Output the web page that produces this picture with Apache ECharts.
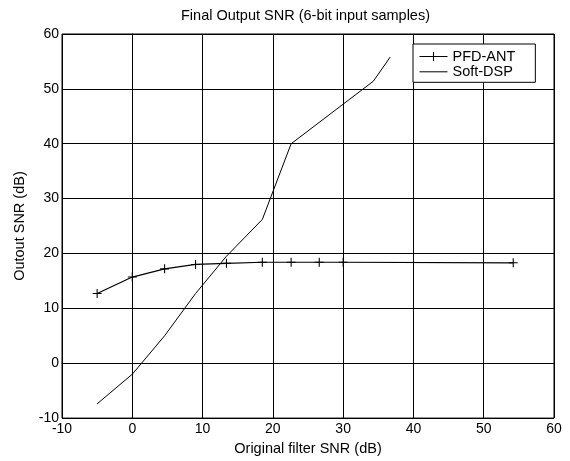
<!DOCTYPE html>
<html><head><meta charset="utf-8">
<script src="https://cdn.jsdelivr.net/npm/echarts@6/dist/echarts.min.js"></script>
<style>html,body{margin:0;padding:0;background:#fff}#c{width:570px;height:461px}</style>
</head><body><div id="c"></div>
<script>
var titleText = 'Final Output SNR (6-bit input samples)';
var xName = 'Original filter SNR (dB)';
var yName = 'Outout SNR (dB)';
var seriesNames = ['PFD-ANT', 'Soft-DSP'];
var pfdX = [-5, 0, 4.6, 9, 13.4, 18.5, 22.6, 26.6, 30, 54.2];
var pfdY = [12.7, 15.7, 17.2, 18.0, 18.2, 18.4, 18.4, 18.4, 18.4, 18.3];
var dspX = [-5, 0, 4.6, 9, 13.4, 18.5, 22.6, 34.3, 36.7];
var dspY = [-7.4, -2, 5, 12.7, 19.5, 26.2, 40, 51.4, 55.8];
var xTicks = [-10, 0, 10, 20, 30, 40, 50, 60];
var yTicks = [-10, 0, 10, 20, 30, 40, 50, 60];

function pairs(xs, ys){ return xs.map(function(x,i){return [x, ys[i]];}); }
var font = 'Liberation Sans, Arial, sans-serif';
var plus = 'path://M0,4.4H10V5.6H0Z M4.4,0H5.6V10H4.4Z';
var chart = echarts.init(document.getElementById('c'), null, {renderer:'canvas'});
chart.setOption({
  animation: false,
  backgroundColor: '#fff',
  title: {text: titleText, left: 181, top: 8, itemGap: 0, padding: 0,
    textStyle: {fontFamily: font, fontSize: 14.5, fontWeight: 'normal', color: '#000'}},
  grid: {left: 62, right: 16, top: 34, bottom: 42, show: true, borderColor: '#000', borderWidth: 1, backgroundColor: 'transparent'},
  legend: {
    orient: 'vertical', left: 413, top: 44, padding: [5, 20, 3, 6],
    backgroundColor: '#fff', borderColor: '#000', borderWidth: 1, borderRadius: 0,
    itemWidth: 28, itemHeight: 11, itemGap: 0.3,
    lineStyle: {width: 1, color: '#000'},
    textStyle: {fontFamily: font, fontSize: 14.5, lineHeight: 13, color: '#000'},
    data: [
      {name: seriesNames[0]},
      {name: seriesNames[1], itemStyle: {color: 'rgba(0,0,0,0)', borderColor: 'rgba(0,0,0,0)', borderWidth: 0}}
    ]
  },
  xAxis: {type: 'value', min: xTicks[0], max: xTicks[xTicks.length-1], interval: 10,
    name: xName, nameLocation: 'middle', nameGap: 21,
    nameTextStyle: {fontFamily: font, fontSize: 14.5, color: '#000'},
    axisLine: {show: true, lineStyle: {color: '#000', width: 1}},
    axisTick: {show: true, inside: true, length: 4, lineStyle: {color: '#000'}},
    axisLabel: {fontFamily: font, fontSize: 14, color: '#000', margin: 4},
    splitLine: {show: true, lineStyle: {color: '#000', width: 1}}},
  yAxis: {type: 'value', min: yTicks[0], max: yTicks[yTicks.length-1], interval: 10,
    name: yName, nameLocation: 'middle', nameGap: 35, nameRotate: 90,
    nameTextStyle: {fontFamily: font, fontSize: 14.5, color: '#000'},
    axisLine: {show: true, lineStyle: {color: '#000', width: 1}},
    axisTick: {show: true, inside: true, length: 4, lineStyle: {color: '#000'}},
    axisLabel: {fontFamily: font, fontSize: 14, color: '#000', margin: 3},
    splitLine: {show: true, lineStyle: {color: '#000', width: 1}}},
  series: [
    {name: seriesNames[0], type: 'line', data: pairs(pfdX, pfdY), symbol: plus, symbolSize: 9, showSymbol: true,
     itemStyle: {color: '#000'}, lineStyle: {color: '#000', width: 1.2}},
    {name: seriesNames[1], type: 'line', data: pairs(dspX, dspY), symbol: 'circle', symbolSize: 0, showSymbol: false,
     itemStyle: {color: '#000'}, lineStyle: {color: '#000', width: 1}}
  ]
});
</script></body></html>
